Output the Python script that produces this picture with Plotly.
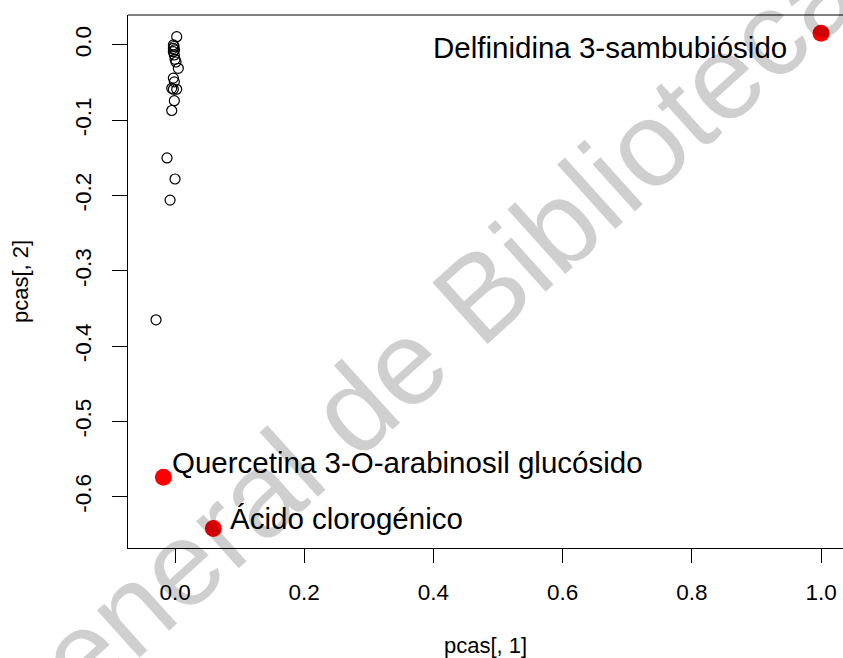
import plotly.graph_objects as go

# Scores of the compounds on the first two principal components
pc1 = [0.0026, -0.0026, -0.0015, -0.0026, -0.0008, -0.0026, -0.0011, 0.0, 0.0015,
       0.0051, -0.0026, -0.0011, -0.0051, 0.0026, -0.0026, -0.0011, -0.0051,
       -0.0124, 0.0, -0.0077, -0.0294]
pc2 = [0.011, 0.000, -0.002, -0.0044, -0.0066, -0.0089, -0.0133, -0.019, -0.0226,
       -0.031, -0.044, -0.049, -0.0575, -0.0588, -0.0588, -0.074, -0.087,
       -0.150, -0.178, -0.206, -0.365]

# Highlighted compounds
hl_names = ["Delfinidina 3-sambubiósido", "Quercetina 3-O-arabinosil glucósido", "Ácido clorogénico"]
hl_pc1 = [1.0, -0.018, 0.0593]
hl_pc2 = [0.0155, -0.574, -0.642]

x_ticks = [0.0, 0.2, 0.4, 0.6, 0.8, 1.0]
y_ticks = [0.0, -0.1, -0.2, -0.3, -0.4, -0.5, -0.6]

FONT = "Liberation Sans, Arial, Helvetica, sans-serif"

fig = go.Figure()
fig.add_trace(go.Scatter(
    x=pc1, y=pc2, mode="markers",
    marker=dict(symbol="circle-open", size=10, color="black", line=dict(width=1.2, color="black")),
    showlegend=False, hoverinfo="skip"))
fig.add_trace(go.Scatter(
    x=hl_pc1, y=hl_pc2, mode="markers",
    marker=dict(symbol="circle", size=17, color="#ff0000", line=dict(width=0)),
    showlegend=False, hoverinfo="skip"))

# Translucent watermark laid over the plot
fig.add_annotation(
    text="General de Bibliotecas", xref="paper", yref="paper", x=0.429, y=0.40,
    xanchor="center", yanchor="middle", textangle=-42, showarrow=False,
    font=dict(family=FONT, size=120, color="rgba(0,0,0,0.19)"))

# Compound labels (offsets in pixels from each point)
label_pos = [
    dict(xanchor="right", xshift=-32, yshift=-14),
    dict(xanchor="left", xshift=7, yshift=15),
    dict(xanchor="left", xshift=15, yshift=10),
]
for name, x, y, p in zip(hl_names, hl_pc1, hl_pc2, label_pos):
    fig.add_annotation(text=name, x=x, y=y, xref="x", yref="y", showarrow=False,
                       xanchor=p["xanchor"], yanchor="middle",
                       xshift=p["xshift"], yshift=p["yshift"],
                       font=dict(family=FONT, size=29.5, color="black"))

# Top edge of the box
fig.add_shape(type="line", xref="paper", yref="paper", x0=0, x1=1, y0=1, y1=1,
              line=dict(color="black", width=1.2))

fig.update_layout(
    width=843, height=658,
    margin=dict(l=128, r=0, t=15, b=110),
    paper_bgcolor="white", plot_bgcolor="white",
    font=dict(family=FONT, color="black"),
    xaxis=dict(range=[-0.0728, 1.034], tickvals=x_ticks,
               ticktext=[f"{v:.1f}" for v in x_ticks],
               showgrid=False, zeroline=False, showline=True, linecolor="black", linewidth=1.2,
               ticks="outside", ticklen=14, tickwidth=1.2, tickcolor="black",
               tickfont=dict(size=22.5), ticklabelstandoff=10,
               title=dict(text="pcas[, 1]", font=dict(size=22), standoff=33)),
    yaxis=dict(range=[-0.668, 0.0398], tickvals=y_ticks,
               ticktext=[f"{v:.1f}" for v in y_ticks],
               showgrid=False, zeroline=False, showline=True, linecolor="black", linewidth=1.2,
               ticks="outside", ticklen=15, tickwidth=1.2, tickcolor="black",
               tickangle=-90, tickfont=dict(size=22.5), ticklabelstandoff=12,
               title=dict(text="pcas[, 2]", font=dict(size=22), standoff=36)),
)

fig.write_html("out.html")
